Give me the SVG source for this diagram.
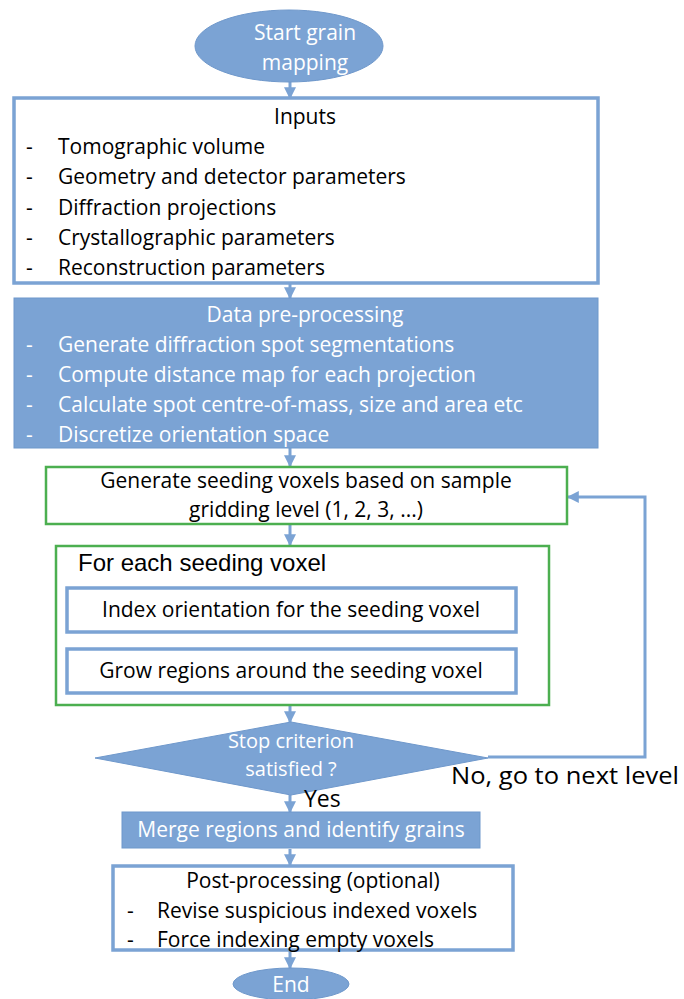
<svg xmlns="http://www.w3.org/2000/svg" width="684" height="999" viewBox="0 0 684 999">
<defs>
<marker id="ah" viewBox="0 0 10 10" refX="9" refY="5" markerWidth="4" markerHeight="4" orient="auto-start-reverse" markerUnits="strokeWidth">
<path d="M0,0 L10,5 L0,10 z" fill="#7BA3D4"/>
</marker>
<style>
.t{font-family:"Open Sans",Lato,"Liberation Sans",sans-serif;font-size:21px;fill:#000}
.w{fill:#fff}
.c{text-anchor:middle}
.a{font-family:"Liberation Sans",Arial,sans-serif;font-size:24px;fill:#000}
.fill{fill:#7BA3D4;stroke:#6F98CB;stroke-width:1}
.bl{fill:#fff;stroke:#7BA3D4;stroke-width:3.5}
.gr{fill:#fff;stroke:#4CAF50;stroke-width:2.5}
.cn{fill:none;stroke:#7BA3D4;stroke-width:3;marker-end:url(#ah)}
.big{font-size:24px}
.d{font-size:20px}
</style>
</defs>
<rect width="684" height="999" fill="#fff"/>
<g id="connectors">
<line class="cn" x1="290" y1="82" x2="290" y2="98"/>
<line class="cn" x1="290" y1="284" x2="290" y2="298"/>
<line class="cn" x1="290" y1="448" x2="290" y2="466"/>
<line class="cn" x1="290" y1="525" x2="290" y2="545"/>
<line class="cn" x1="290" y1="706" x2="290" y2="722"/>
<polyline class="cn" points="488,757 645,757 645,497 568,497"/>
<line class="cn" x1="290" y1="795" x2="290" y2="812"/>
<line class="cn" x1="290" y1="849" x2="290" y2="865"/>
<line class="cn" x1="290" y1="951" x2="290" y2="968"/>
</g>
<g id="start">
<ellipse class="fill" cx="289" cy="46" rx="94" ry="36"/>
<text class="t w c" x="305" y="40">Start grain</text>
<text class="t w c" x="305" y="70">mapping</text>
</g>
<g id="inputs">
<rect class="bl" x="14" y="98" width="584" height="185"/>
<text class="t c" x="305" y="124">Inputs</text>
<text class="t" x="26" y="154">-</text><text class="t" x="58" y="154">Tomographic volume</text>
<text class="t" x="26" y="184">-</text><text class="t" x="58" y="184">Geometry and detector parameters</text>
<text class="t" x="26" y="215">-</text><text class="t" x="58" y="215">Diffraction projections</text>
<text class="t" x="26" y="245">-</text><text class="t" x="58" y="245">Crystallographic parameters</text>
<text class="t" x="26" y="275">-</text><text class="t" x="58" y="275">Reconstruction parameters</text>
</g>
<g id="preprocessing">
<rect class="fill" x="14" y="298" width="584" height="150"/>
<text class="t w c" x="305" y="322">Data pre-processing</text>
<text class="t w" x="26" y="352">-</text><text class="t w" x="58" y="352">Generate diffraction spot segmentations</text>
<text class="t w" x="26" y="382">-</text><text class="t w" x="58" y="382">Compute distance map for each projection</text>
<text class="t w" x="26" y="412">-</text><text class="t w" x="58" y="412">Calculate spot centre-of-mass, size and area etc</text>
<text class="t w" x="26" y="442">-</text><text class="t w" x="58" y="442">Discretize orientation space</text>
</g>
<g id="seeding">
<rect class="gr" x="46" y="467" width="521" height="57"/>
<text class="t c" x="306" y="488">Generate seeding voxels based on sample</text>
<text class="t c" x="306" y="517">gridding level (1, 2, 3, ...)</text>
</g>
<g id="foreach">
<rect class="gr" x="56" y="546" width="493" height="159"/>
<text class="a" x="78" y="571">For each seeding voxel</text>
</g>
<g id="index">
<rect class="bl" x="67" y="588" width="449" height="44"/>
<text class="t c" x="291" y="617">Index orientation for the seeding voxel</text>
</g>
<g id="grow">
<rect class="bl" x="67" y="649" width="449" height="44"/>
<text class="t c" x="291" y="678">Grow regions around the seeding voxel</text>
</g>
<g id="stop">
<polygon class="fill" points="291,722 488,758 291,795 95,758"/>
<text class="t w c d" x="291" y="748">Stop criterion</text>
<text class="t w c d" x="291" y="776">satisfied ?</text>
<text class="t big" x="451" y="784" textLength="228" lengthAdjust="spacingAndGlyphs">No, go to next level</text>
<text class="t" x="304" y="807" style="font-size:23px">Yes</text>
</g>
<g id="merge">
<rect class="fill" x="122" y="812" width="358" height="36"/>
<text class="t w c" x="301" y="837">Merge regions and identify grains</text>
</g>
<g id="post">
<rect class="bl" x="113" y="866" width="400" height="84"/>
<text class="t c" x="313" y="888">Post-processing (optional)</text>
<text class="t" x="127" y="918">-</text><text class="t" x="157" y="918">Revise suspicious indexed voxels</text>
<text class="t" x="127" y="947">-</text><text class="t" x="157" y="947">Force indexing empty voxels</text>
</g>
<g id="end">
<ellipse class="fill" cx="291" cy="984" rx="58" ry="16"/>
<text class="t w c" x="291" y="992">End</text>
</g>
</svg>
